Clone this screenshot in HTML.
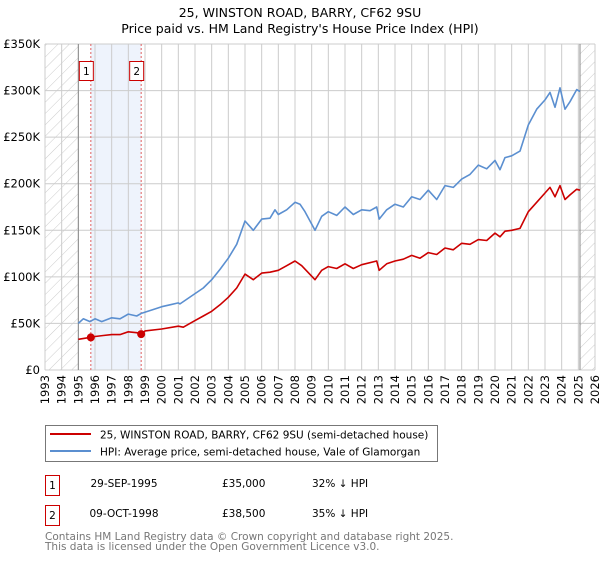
<!DOCTYPE html>
<html><head><meta charset="utf-8"><style>
body{margin:0;background:#fff;font-family:"DejaVu Sans","Liberation Sans",sans-serif;}
svg text{font-family:"DejaVu Sans","Liberation Sans",sans-serif;}
</style></head><body>
<svg id="chart" width="600" height="560" xmlns="http://www.w3.org/2000/svg">
<defs><pattern id="hatch" width="8" height="8" patternUnits="userSpaceOnUse" patternTransform="rotate(45)"><line x1="0" y1="0" x2="0" y2="8" stroke="#ccc" stroke-width="1"/></pattern></defs>
<text x="300" y="17" text-anchor="middle" font-size="12.5">25, WINSTON ROAD, BARRY, CF62 9SU</text>
<text x="300" y="33" text-anchor="middle" font-size="12.5">Price paid vs. HM Land Registry's House Price Index (HPI)</text>
<g id="plot"></g>
<rect x="45.5" y="425.5" width="392" height="36" fill="#fff" stroke="#777"/>
<line x1="50" y1="434" x2="91" y2="434" stroke="#cc0000" stroke-width="2"/>
<text x="100" y="438.5" font-size="10.5">25, WINSTON ROAD, BARRY, CF62 9SU (semi-detached house)</text>
<line x1="50" y1="451" x2="91" y2="451" stroke="#5b8fd0" stroke-width="2"/>
<text x="100" y="455.5" font-size="10.5">HPI: Average price, semi-detached house, Vale of Glamorgan</text>
<g font-size="10.5">
<rect x="45.5" y="475.5" width="14" height="20" fill="#fff" stroke="#cc0000"/>
<text x="52.5" y="489" text-anchor="middle">1</text>
<text x="124" y="487" text-anchor="middle">29-SEP-1995</text>
<text x="222" y="487">£35,000</text>
<text x="312" y="487">32% ↓ HPI</text></g>
<g font-size="10.5">
<rect x="45.5" y="505.5" width="14" height="20" fill="#fff" stroke="#cc0000"/>
<text x="52.5" y="519" text-anchor="middle">2</text>
<text x="124" y="517" text-anchor="middle">09-OCT-1998</text>
<text x="222" y="517">£38,500</text>
<text x="312" y="517">35% ↓ HPI</text></g>
<text x="45" y="540" font-size="10.5" fill="#777">Contains HM Land Registry data © Crown copyright and database right 2025.</text>
<text x="45" y="550" font-size="10.5" fill="#777">This data is licensed under the Open Government Licence v3.0.</text>
</svg>
<script>
const hpiYears=[1995,1995.3,1995.7,1996,1996.4,1997,1997.5,1998,1998.5,1998.8,1999.5,2000,2000.5,2001,2001.1,2002,2002.5,2003,2003.5,2004,2004.5,2005,2005.5,2006,2006.5,2006.8,2007,2007.5,2008,2008.3,2008.6,2009.2,2009.6,2010,2010.5,2011,2011.5,2012,2012.5,2012.9,2013.05,2013.5,2014,2014.5,2015,2015.5,2016,2016.5,2017,2017.5,2018,2018.5,2019,2019.5,2020,2020.3,2020.6,2021,2021.5,2022,2022.5,2023,2023.3,2023.6,2023.9,2024.2,2024.5,2024.9,2025.1];
const hpiValues=[50,55,52,55,52,56,55,60,58,61,65,68,70,72,71,82,88,97,108,120,135,160,150,162,163,172,167,172,180,178,170,150,165,170,166,175,167,172,171,175,162,172,178,175,186,183,193,183,198,196,205,210,220,216,225,215,228,230,235,263,280,290,298,282,303,280,288,301,299];
const ppYears=[1995,1995.7,1996,1996.5,1997,1997.5,1998,1998.5,1998.8,1999,2000,2001,2001.3,2002,2002.5,2003,2003.5,2004,2004.5,2005,2005.5,2006,2006.5,2007,2007.5,2008,2008.4,2009.2,2009.6,2010,2010.5,2011,2011.5,2012,2012.9,2013.05,2013.5,2014,2014.5,2015,2015.5,2016,2016.5,2017,2017.5,2018,2018.5,2019,2019.5,2020,2020.3,2020.6,2021,2021.5,2022,2022.5,2023,2023.3,2023.6,2023.9,2024.2,2024.5,2024.9,2025.1];
const ppValues=[33,35,36,37,38,38,41,40,38.5,42,44,47,46,53,58,63,70,78,88,103,97,104,105,107,112,117,112,97,107,111,109,114,109,113,117,107,114,117,119,123,120,126,124,131,129,136,135,140,139,147,143,149,150,152,170,180,190,196,186,198,183,188,194,193];
const sales=[{t:1995.75,v:35,label:"1"},{t:1998.77,v:38.5,label:"2"}];
const yTicks=[0,50,100,150,200,250,300,350];
const xTickYears=[1993,1994,1995,1996,1997,1998,1999,2000,2001,2002,2003,2004,2005,2006,2007,2008,2009,2010,2011,2012,2013,2014,2015,2016,2017,2018,2019,2020,2021,2022,2023,2024,2025,2026];
const X0=45,X1=595,Y0=370,Y1=44;
const xs=t=>X0+(t-1993)/(2026-1993)*(X1-X0);
const ys=v=>Y0-v/350*(Y0-Y1);
const NS="http://www.w3.org/2000/svg";
const g=document.getElementById('plot');
function el(tag,attrs,parent){const e=document.createElementNS(NS,tag);for(const k in attrs)e.setAttribute(k,attrs[k]);(parent||g).appendChild(e);return e;}
let e;
e=el('rect',{x:xs(1993),y:Y1,width:xs(1995)-xs(1993),height:Y0-Y1,fill:'url(#hatch)'});


e=el('rect',{x:xs(2025.1),y:Y1,width:xs(2026)-xs(2025.1),height:Y0-Y1,fill:'url(#hatch)'});


e=el('rect',{x:xs(sales[0].t),y:Y1,width:xs(sales[1].t)-xs(sales[0].t),height:Y0-Y1,fill:'#eef3fc'});


xTickYears.forEach(yr=>{
 e=el('line',{x1:xs(yr),y1:Y1,x2:xs(yr),y2:Y0,stroke:'#ccc','stroke-width':1});
 
 
 e=el('text',{x:0,y:0,'font-size':11.5,'text-anchor':'end',transform:`translate(${xs(yr)+4},${Y0+5}) rotate(-90)`});
 e.textContent=yr;
 
 
});
yTicks.forEach(v=>{
 e=el('line',{x1:X0,y1:ys(v),x2:X1,y2:ys(v),stroke:'#ccc','stroke-width':1});
 
 
 e=el('text',{x:X0-5,y:ys(v)+4,'font-size':11.5,'text-anchor':'end'});
 e.textContent=v===0?'£0':'£'+v+'K';
 
 
});
[1995,2025.1].forEach(t=>{
 e=el('line',{x1:xs(t),y1:Y1,x2:xs(t),y2:Y0,stroke:'#888','stroke-width':1});
 
 
});
sales.forEach(s=>{
 e=el('line',{x1:xs(s.t),y1:Y1,x2:xs(s.t),y2:Y0,stroke:'#e06060','stroke-width':1,'stroke-dasharray':'2,2'});
 
 
});
function path(ts,vs,color,name){
 const d=ts.map((t,i)=>(i?'L':'M')+xs(t).toFixed(1)+','+ys(vs[i]).toFixed(1)).join('');
 e=el('path',{d:d,fill:'none',stroke:color,'stroke-width':1.6,'stroke-linejoin':'round'});
 
 
}
path(hpiYears,hpiValues,'#5b8fd0','hpi-line');
path(ppYears,ppValues,'#cc0000','property-price-line');
sales.forEach(s=>{
 e=el('circle',{cx:xs(s.t),cy:ys(s.v),r:4,fill:'#cc0000'});
 
 
 e=el('rect',{x:xs(s.t)-11.5,y:61.5,width:14,height:19,fill:'#fff',stroke:'#cc0000'});
 
 
 e=el('text',{x:xs(s.t)-4.5,y:75,'font-size':10.5,'text-anchor':'middle'});
 e.textContent=s.label;
 
 
});
</script>
</body></html>
